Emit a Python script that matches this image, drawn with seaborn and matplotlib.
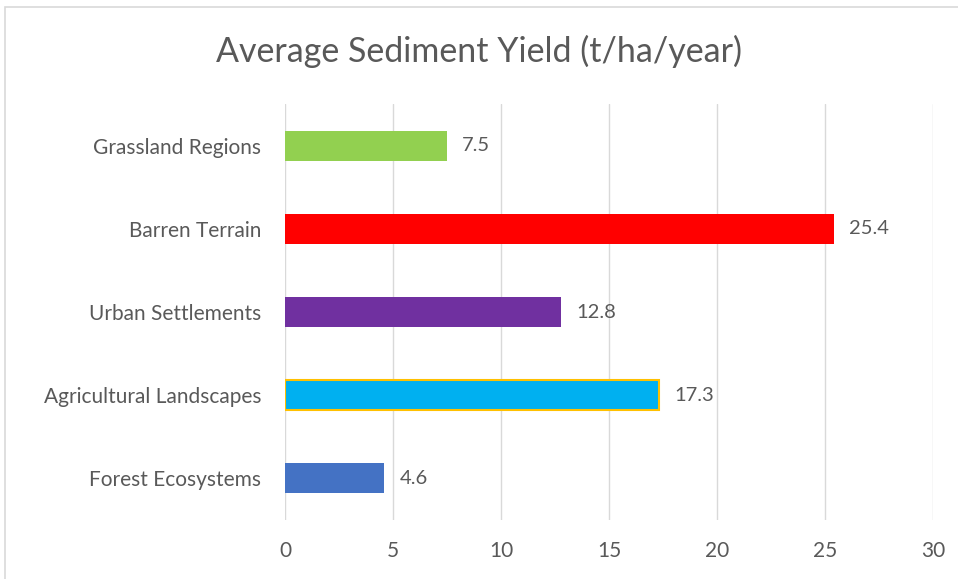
import matplotlib
matplotlib.use("Agg")
import matplotlib.pyplot as plt
import seaborn as sns
import pandas as pd
from matplotlib.patches import Rectangle

categories = ["Grassland Regions", "Barren Terrain", "Urban Settlements",
              "Agricultural Landscapes", "Forest Ecosystems"]
values = [7.5, 25.4, 12.8, 17.3, 4.6]
colors = ["#92D050", "#FF0000", "#7030A0", "#00B0F0", "#4472C4"]
xticks = [0, 5, 10, 15, 20, 25, 30]
title = "Average Sediment Yield (t/ha/year)"

sns.set_theme(style="white")
plt.rcParams['font.family'] = ['Lato', 'DejaVu Sans']
text_color = "#595959"

df = pd.DataFrame({"category": categories, "value": values})

fig = plt.figure(figsize=(9.58, 5.79), dpi=100)
ax = fig.add_axes([285/958, 1 - 520/579, (933-285)/958, (520-104)/579])

sns.barplot(data=df, x="value", y="category", hue="category",
            palette=colors, orient="h", width=0.36, ax=ax, legend=False,
            saturation=1)

for p in ax.patches:
    p.set_edgecolor("none")
# golden edge on Agricultural Landscapes
idx = categories.index("Agricultural Landscapes")
for p in ax.patches:
    yc = p.get_y() + p.get_height() / 2
    if abs(yc - idx) < 0.01:
        p.set_edgecolor("#FFC000")
        p.set_linewidth(1.5)

for cont in ax.containers:
    ax.bar_label(cont, labels=[f"{v:.1f}" for v in cont.datavalues],
                 padding=11, fontsize=14.5, color=text_color)

ax.set_xlim(0, 30)
ax.set_xticks(xticks)
ax.set_xticklabels([str(t) for t in xticks])
ax.set_ylim(4.5, -0.5)
ax.grid(axis="x", color="#D9D9D9", linewidth=1)
ax.set_axisbelow(True)
for s in ax.spines.values():
    s.set_visible(False)
ax.tick_params(axis="both", length=0, labelsize=15, colors=text_color)
ax.tick_params(axis="x", pad=15)
ax.tick_params(axis="y", pad=17)
ax.set_xlabel("")
ax.set_ylabel("")

fig.text(0.5, 1 - 51/579, title, ha="center", va="center",
         fontsize=24.5, color=text_color)

fig.patches.append(Rectangle((5/958, -0.02), 1.0, 1 - 7/579 + 0.02,
                             transform=fig.transFigure, fill=False,
                             edgecolor="#D9D9D9", linewidth=1.2))

fig.savefig("out.png", dpi=100)
